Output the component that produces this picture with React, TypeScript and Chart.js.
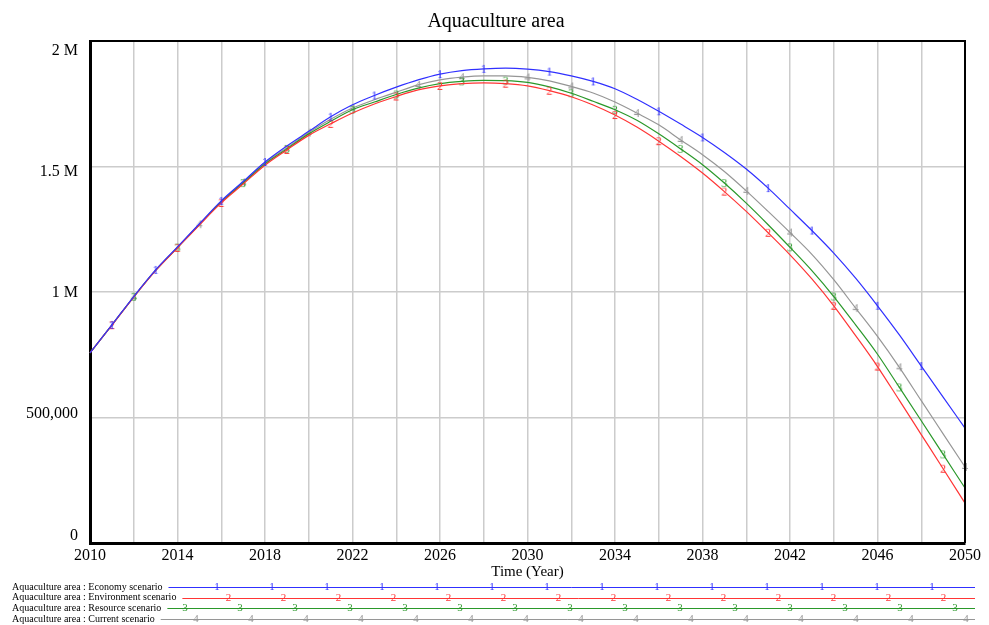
import React, { useEffect, useRef } from 'react';
import { Chart, registerables } from 'chart.js';

Chart.register(...registerables);

const chartTitle = 'Aquaculture area';
const xAxisTitle = 'Time (Year)';

const years = [
  2010, 2011, 2012, 2013, 2014, 2015, 2016, 2017, 2018, 2019,
  2020, 2021, 2022, 2023, 2024, 2025, 2026, 2027, 2028, 2029,
  2030, 2031, 2032, 2033, 2034, 2035, 2036, 2037, 2038, 2039,
  2040, 2041, 2042, 2043, 2044, 2045, 2046, 2047, 2048, 2049, 2050,
];

const xTickLabels = [2010, 2014, 2018, 2022, 2026, 2030, 2034, 2038, 2042, 2046, 2050];
const yTickValues = [0, 500000, 1000000, 1500000, 2000000];
const yTickLabels = ['0', '500,000', '1 M', '1.5 M', '2 M'];

const economy = [
  757000, 869000, 982000, 1088000, 1180000, 1272000, 1363000, 1440000, 1518000, 1582000,
  1640000, 1698000, 1746000, 1783000, 1816000, 1845000, 1868000, 1882000, 1889000, 1892000,
  1888000, 1878000, 1861000, 1839000, 1810000, 1768000, 1720000, 1669000, 1616000, 1556000,
  1490000, 1414000, 1330000, 1245000, 1155000, 1055000, 945000, 829000, 705000, 581000, 458000,
];

const environment = [
  757000, 868000, 980000, 1085000, 1176000, 1267000, 1355000, 1430000, 1505000, 1566000,
  1624000, 1670000, 1713000, 1749000, 1779000, 1805000, 1821000, 1830000, 1833000, 1830000,
  1821000, 1802000, 1778000, 1745000, 1705000, 1657000, 1601000, 1540000, 1474000, 1400000,
  1321000, 1236000, 1148000, 1052000, 945000, 826000, 703000, 568000, 432000, 296000, 159000,
];

const resource = [
  757000, 868000, 981000, 1086000, 1177000, 1269000, 1358000, 1434000, 1510000, 1570000,
  1630000, 1680000, 1726000, 1757000, 1787000, 1812000, 1830000, 1839000, 1843000, 1842000,
  1835000, 1817000, 1792000, 1760000, 1726000, 1684000, 1630000, 1570000, 1507000, 1434000,
  1354000, 1268000, 1178000, 1085000, 982000, 869000, 752000, 620000, 487000, 353000, 219000,
];

const current = [
  757000, 868000, 981000, 1087000, 1178000, 1270000, 1360000, 1437000, 1514000, 1575000,
  1635000, 1688000, 1733000, 1766000, 1796000, 1825000, 1845000, 1856000, 1861000, 1861000,
  1855000, 1841000, 1819000, 1793000, 1757000, 1713000, 1666000, 1606000, 1547000, 1480000,
  1403000, 1321000, 1237000, 1150000, 1049000, 936000, 823000, 700000, 567000, 435000, 303000,
];

const economyMarkers = [2011, 2013, 2016, 2018, 2021, 2023, 2026, 2028, 2031, 2033, 2036, 2038, 2041, 2043, 2046, 2048];
const environmentMarkers = [2011, 2014, 2016, 2019, 2021, 2024, 2026, 2029, 2031, 2034, 2036, 2039, 2041, 2044, 2046, 2049];
const resourceMarkers = [2012, 2014, 2017, 2019, 2022, 2024, 2027, 2029, 2032, 2034, 2037, 2039, 2042, 2044, 2047, 2049];
const currentMarkers = [2012, 2015, 2017, 2020, 2022, 2025, 2027, 2030, 2032, 2035, 2037, 2040, 2042, 2045, 2047, 2050];

const seriesNames = [
  'Aquaculture area : Economy scenario',
  'Aquaculture area : Environment scenario',
  'Aquaculture area : Resource scenario',
  'Aquaculture area : Current scenario',
];
const seriesDigits = ['1', '2', '3', '4'];

const SERIF = "'Liberation Serif', 'Times New Roman', serif";
const COLORS = ['#3030ff', '#ff3535', '#2a982a', '#969696'];

function makeMarker(digit: string, color: string) {
  const c = document.createElement('canvas');
  c.width = 12;
  c.height = 14;
  const g = c.getContext('2d')!;
  g.font = `12px ${SERIF}`;
  g.fillStyle = color;
  g.textAlign = 'center';
  g.textBaseline = 'middle';
  g.fillText(digit, 6, 7.5);
  return c;
}

const decorPlugin = {
  id: 'decor',
  afterDraw(chart: any) {
    const { ctx, chartArea: a, scales } = chart;
    ctx.save();
    // frame top / right
    ctx.strokeStyle = '#000';
    ctx.lineWidth = 2;
    ctx.beginPath();
    ctx.moveTo(a.left, a.top);
    ctx.lineTo(a.right, a.top);
    ctx.lineTo(a.right, a.bottom);
    ctx.stroke();

    // title
    ctx.fillStyle = '#000';
    ctx.font = `20px ${SERIF}`;
    ctx.textAlign = 'center';
    ctx.textBaseline = 'alphabetic';
    ctx.fillText(chartTitle, 496, 27);

    // y labels
    ctx.font = `16px ${SERIF}`;
    ctx.textAlign = 'right';
    ctx.textBaseline = 'middle';
    const h = a.bottom - a.top;
    yTickValues.forEach((v, i) => {
      const gy = scales.y.getPixelForValue(v);
      const ly = a.top + 9.5 + (gy - a.top) * ((h - 17) / h);
      ctx.fillText(yTickLabels[i], 78, ly);
    });

    // legend
    const rowY = [587, 597.5, 608, 619];
    const markerStart = [217, 228.5, 185, 196];
    const lineEnd = 975;
    seriesNames.forEach((name, i) => {
      const y = rowY[i];
      ctx.font = `10px ${SERIF}`;
      ctx.textAlign = 'left';
      ctx.textBaseline = 'middle';
      ctx.fillStyle = '#000';
      ctx.fillText(name, 12, y);
      const w = ctx.measureText(name).width;
      const x0 = 12 + w + 6;
      ctx.strokeStyle = COLORS[i];
      ctx.lineWidth = 1;
      ctx.beginPath();
      ctx.moveTo(x0, Math.round(y) + 0.5);
      ctx.lineTo(lineEnd, Math.round(y) + 0.5);
      ctx.stroke();
      ctx.fillStyle = COLORS[i];
      ctx.textAlign = 'center';
      ctx.font = `11px ${SERIF}`;
      for (let x = markerStart[i]; x < lineEnd - 5; x += 55) {
        ctx.fillText(seriesDigits[i], x, y + 0.5);
      }
    });

    ctx.restore();
  },
};

export default function App() {
  const ref = useRef<HTMLCanvasElement>(null);

  useEffect(() => {
    const seriesValues = [economy, environment, resource, current];
    const seriesMarkers = [economyMarkers, environmentMarkers, resourceMarkers, currentMarkers];
    const datasets = seriesValues.map((vals, i) => {
      const marker = makeMarker(seriesDigits[i], COLORS[i]);
      const marks = seriesMarkers[i];
      return {
        label: seriesNames[i],
        data: years.map((x, j) => ({ x, y: vals[j] })),
        borderColor: COLORS[i],
        backgroundColor: COLORS[i],
        borderWidth: 1.2,
        clip: 8,
        cubicInterpolationMode: 'monotone' as const,
        pointStyle: marker,
        pointRadius: (c: any) => (marks.includes(years[c.dataIndex]) ? 4 : 0),
        pointHoverRadius: 0,
      };
    });

    const chart = new Chart(ref.current!, {
      type: 'line',
      data: { datasets },
      plugins: [decorPlugin],
      options: {
        responsive: false,
        animation: false,
        devicePixelRatio: 1,
        events: [],
        layout: { padding: { left: 0, top: 41, right: 24, bottom: 0 } },
        plugins: {
          legend: { display: false },
          tooltip: { enabled: false },
          title: { display: false },
        },
        scales: {
          x: {
            type: 'linear',
            min: 2010,
            max: 2050,
            afterFit: (s: any) => {
              s.height = 82;
              s.paddingLeft = 0;
              s.paddingRight = 0;
            },
            ticks: {
              stepSize: 2,
              autoSkip: false,
              maxRotation: 0,
              minRotation: 0,
              padding: 3,
              color: '#000',
              font: { family: SERIF, size: 16 },
              callback: (v: any) => (xTickLabels.includes(Number(v)) ? String(v) : ''),
            },
            grid: { color: '#cccccc', lineWidth: 1.5, drawTicks: false },
            border: { color: '#000', width: 3 },
            title: {
              display: true,
              text: xAxisTitle,
              color: '#000',
              font: { family: SERIF, size: 15 },
              padding: { top: 0, bottom: 44 },
            },
          },
          y: {
            min: 0,
            max: 2000000,
            afterFit: (s: any) => {
              s.width = 90;
              s.paddingTop = 0;
              s.paddingBottom = 0;
            },
            ticks: { display: false, stepSize: 500000 },
            grid: { color: '#cccccc', lineWidth: 1.5, drawTicks: false },
            border: { color: '#000', width: 3 },
          },
        },
      },
    } as any);
    return () => chart.destroy();
  }, []);

  return (
    <div style={{ position: 'absolute', left: 0, top: 0, width: 989, height: 625, background: '#fff' }}>
      <canvas ref={ref} width={989} height={625} style={{ display: 'block' }} />
    </div>
  );
}
